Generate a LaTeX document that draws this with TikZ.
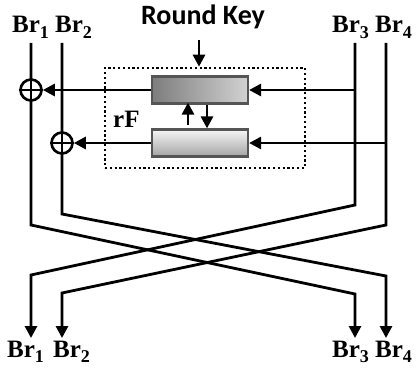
\documentclass[tikz,border=0pt]{standalone}
\usepackage{fontspec}
\setmainfont{Liberation Serif}
\newfontfamily\keyfont{Carlito}
\usetikzlibrary{arrows.meta,calc}
\newcommand\brl[1]{Br\raisebox{-0.22em}{\fontsize{18}{18}\selectfont #1}}
\begin{document}
\begin{tikzpicture}[x=1pt,y=-1pt,
  wire/.style={line width=2.8pt},
  arr/.style={line width=2.8pt,-{Triangle[length=12pt,width=12pt]}},
  br/.style={font=\fontsize{25}{25}\selectfont\bfseries, inner sep=0pt, anchor=base west},
  fbox/.style={draw={rgb,255:red,85;green,85;blue,85}, line width=2.2pt, minimum width=96pt, minimum height=27pt, inner sep=0pt},
  xor/.style={circle, draw, line width=2.6pt, minimum size=21pt, inner sep=0pt, fill=white},
  dotbox/.style={draw, line width=2.6pt, dash pattern=on 2.2pt off 2.6pt, minimum width=200pt, minimum height=100pt, inner sep=0pt},
]
\useasboundingbox (0,0) rectangle (419,374);

% labels
\node[br] (l1) at (12,33) {\brl{1}};
\node[br] (l2) at (55,33) {\brl{2}};
\node[br] (l3) at (332,33) {\brl{3}};
\node[br] (l4) at (375,33) {\brl{4}};
\node[br] (b1) at (7,357) {\brl{1}};
\node[br] (b2) at (53,357) {\brl{2}};
\node[br] (b3) at (332,357) {\brl{3}};
\node[br] (b4) at (375,357) {\brl{4}};
\node[font=\keyfont\fontsize{28}{28}\selectfont\bfseries, inner sep=0pt, anchor=base] (rk) at (203,25) {Round Key};
\node[br] (rf) at (113,128) {rF};

% dotted round-function box
\node[dotbox] (rfb) at (205,118) {};

% F boxes
\node[fbox, left color={rgb,255:red,125;green,125;blue,125}, right color={rgb,255:red,210;green,210;blue,210}] (f1) at (200,90) {};
\node[fbox, top color={rgb,255:red,245;green,245;blue,245}, bottom color={rgb,255:red,165;green,165;blue,165}] (f2) at (200,143) {};

% coordinates
\coordinate (t1) at (31,43);
\coordinate (t2) at (62,43);
\coordinate (t3) at (355,43);
\coordinate (t4) at (386,43);
\coordinate (a1) at (31,225);
\coordinate (a2) at (62,214);
\coordinate (a3) at (355,205);
\coordinate (a4) at (386,225);
\coordinate (c1) at (355,294);
\coordinate (c2) at (386,276);
\coordinate (c3) at (31,275);
\coordinate (c4) at (62,293);
\coordinate (o1) at (31,338);
\coordinate (o2) at (62,338);
\coordinate (o3) at (355,338);
\coordinate (o4) at (386,338);
\coordinate (h3) at (355,90);
\coordinate (h4) at (386,143);
\coordinate (rks) at (199,40);

% branch wires
\draw[arr] (t1) -- (a1) -- (c1) -- (o3);
\draw[arr] (t2) -- (a2) -- (c2) -- (o4);
\draw[arr] (t3) -- (a3) -- (c3) -- (o1);
\draw[arr] (t4) -- (a4) -- (c4) -- (o2);

% xor nodes
\node[xor] (x1) at (31,90) {};
\node[xor] (x2) at (62,143) {};
\draw[wire] (x1.north) -- (x1.south);
\draw[wire] (x1.west) -- (x1.east);
\draw[wire] (x2.north) -- (x2.south);
\draw[wire] (x2.west) -- (x2.east);

% horizontal arrows
\draw[arr] (h3) -- (f1.east);
\draw[arr] (f1.west) -- (x1.east);
\draw[arr] (h4) -- (f2.east);
\draw[arr] (f2.west) -- (x2.east);

% round key
\draw[arr] (rks) -- (rks |- rfb.north);

% inner arrows
\draw[arr] ($(f2.north)+(-12,-3)$) -- ($(f1.south)+(-12,-2)$);
\draw[arr] ($(f1.south)+(7,0)$) -- ($(f2.north)+(7,0)$);
\end{tikzpicture}
\end{document}
